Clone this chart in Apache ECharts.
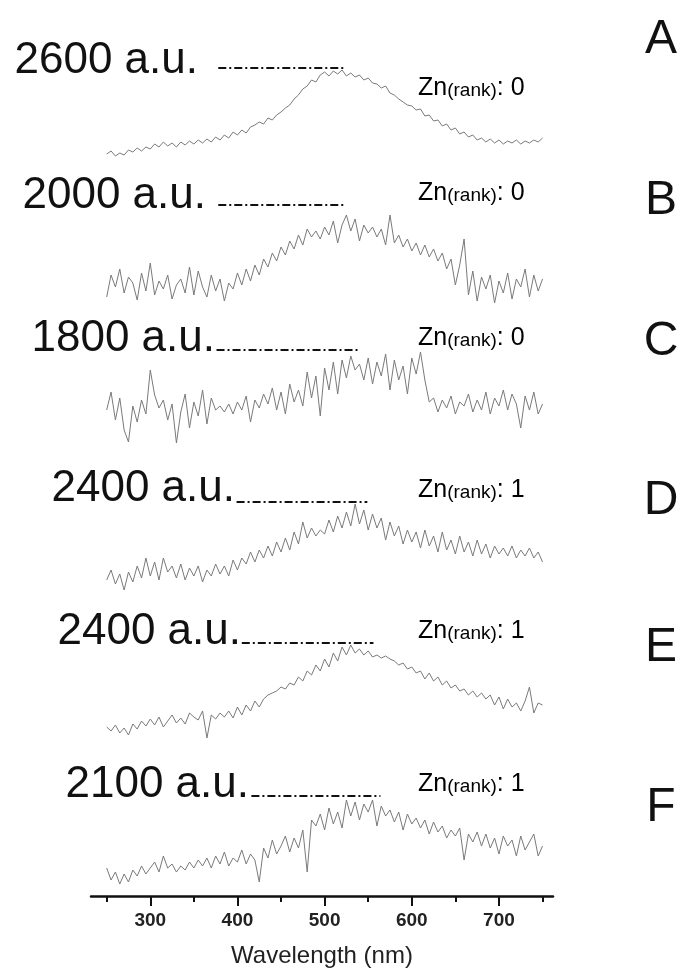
<!DOCTYPE html>
<html>
<head>
<meta charset="utf-8">
<title>Emission spectra A-F</title>
<script src="https://cdn.jsdelivr.net/npm/echarts@6/dist/echarts.min.js"></script>
<style>
html,body{margin:0;padding:0;background:#fff}
#main{width:684px;height:979px}
</style>
</head>
<body>
<div id="main"></div>
<script>
// wavelength sampling (nm), 5 nm steps from 250 to 750
var wavelengths = [];
for (var w = 250; w <= 750; w += 5) wavelengths.push(w);

var panelNames = ['A', 'B', 'C', 'D', 'E', 'F'];
var scaleLabels = ['2600 a.u.', '2000 a.u.', '1800 a.u.', '2400 a.u.', '2400 a.u.', '2100 a.u.'];
var znRank = [0, 0, 0, 1, 1, 1];
// reference (dash-dot) level line, start / end wavelength in nm
var refFrom = [378, 378, 376, 399, 405, 416];
var refTo = [524, 524, 541, 549, 556, 564];

var majorTicks = [300, 400, 500, 600, 700];
var minorTicks = [250, 350, 450, 550, 650, 750];

// intensities, % of the marked level (100 = dash-dot line)
var spectrumA = [14,17,12,15,13,18,16,20,17,21,
  19,24,21,26,22,25,21,26,23,27,
  24,28,25,29,26,31,28,33,30,36,
  33,38,35,41,43,46,44,50,48,53,
  56,60,63,69,73,79,82,88,86,93,
  96,92,97,94,98,92,95,91,93,88,
  90,85,84,80,82,75,73,69,66,63,
  62,58,59,52,53,47,48,42,44,38,
  40,34,36,31,33,28,30,26,29,25,
  28,24,27,25,28,24,27,25,28,26,
  30];
var spectrumB = [8,30,18,36,12,28,22,5,32,14,
  42,10,24,16,30,6,20,26,12,38,
  10,34,18,8,30,14,26,4,22,16,
  32,20,36,24,40,30,46,38,52,44,
  58,50,64,56,70,60,76,68,74,66,
  78,70,84,62,80,90,74,86,64,80,
  72,78,68,76,60,90,62,70,58,66,
  54,62,50,60,48,56,44,52,36,46,
  20,40,66,10,34,4,28,16,30,2,
  24,12,32,6,26,18,36,8,30,14,
  26];
var spectrumC = [40,58,30,52,20,8,44,28,50,36,
  80,55,42,50,30,46,7,38,56,22,
  48,34,60,26,52,40,44,38,46,36,
  48,40,54,28,50,42,56,46,62,40,
  58,36,66,48,60,44,78,52,74,34,
  82,60,88,56,90,72,94,80,86,70,
  92,66,88,74,96,60,90,70,84,56,
  92,76,98,70,48,52,38,50,42,54,
  36,48,44,56,38,50,40,58,36,52,
  44,60,40,56,46,22,54,40,58,36,
  46];
var spectrumD = [22,32,18,28,12,30,20,36,24,44,
  26,40,22,44,30,36,24,38,22,34,
  26,36,20,32,26,38,28,36,26,42,
  32,44,38,50,40,52,44,56,46,60,
  50,64,52,70,58,80,64,74,66,72,
  68,82,70,86,74,90,76,98,78,92,
  72,88,74,84,62,80,66,76,58,72,
  60,70,54,72,56,66,50,70,52,62,
  48,66,50,60,46,62,48,58,44,56,
  48,54,46,56,44,52,46,54,44,50,
  40];
var spectrumE = [16,12,18,10,15,8,19,14,22,17,
  24,18,26,16,22,28,20,25,19,30,
  26,23,32,5,28,24,30,26,32,25,
  36,28,38,32,42,36,44,48,50,52,
  56,54,60,58,66,62,72,68,78,72,
  84,76,90,82,96,88,98,90,94,88,
  92,86,88,85,87,84,82,78,80,74,
  76,70,72,64,70,62,66,58,62,55,
  58,52,54,48,52,46,50,44,48,38,
  46,34,44,36,40,32,42,56,30,40,
  38];
var spectrumF = [28,16,24,12,22,14,26,20,30,22,
  28,34,24,40,28,32,24,30,26,34,
  28,36,30,38,28,40,32,44,30,38,
  34,46,32,42,36,14,48,38,56,42,
  50,60,44,58,48,66,24,76,70,82,
  66,88,72,84,68,96,80,94,76,92,
  84,96,70,90,80,86,74,84,66,82,
  72,78,68,76,62,74,64,70,58,66,
  60,68,36,62,54,64,50,62,48,58,
  42,60,50,56,40,60,46,54,62,40,
  50];
var spectra = [spectrumA, spectrumB, spectrumC, spectrumD, spectrumE, spectrumF];

// layout (pixels)
var plotLeft = 91, plotWidth = 462, panelHeight = 100;
var lineTop = [68, 205, 350, 502, 643, 796];
var labelRight = [198, 206, 215, 235, 241, 249];
var labelMid = [61, 196, 339, 489, 632, 785];
var znLeft = 418;
var znMid = [88, 193, 338, 490, 631, 784];
var letterMid = [40, 201, 342, 501, 648, 808];
var fontName = '"Liberation Sans", Arial, sans-serif';

var myChart = echarts.init(document.getElementById('main'));

var grids = [], xAxes = [], yAxes = [], series = [], graphics = [];
for (var i = 0; i < 6; i++) {
  var last = (i === 5);
  grids.push({left: plotLeft, width: plotWidth, top: lineTop[i], height: panelHeight});
  xAxes.push({
    type: 'value', gridIndex: i, min: 232, max: 762,
    show: last,
    position: 'bottom',
    axisLine: {show: true, lineStyle: {color: '#111', width: 2.5}},
    axisTick: {customValues: majorTicks, length: 10, inside: false, lineStyle: {color: '#111', width: 2}},
    axisLabel: {customValues: majorTicks, fontSize: 19, fontWeight: 'bold', color: '#222', margin: 15, fontFamily: fontName},
    splitLine: {show: false},
    name: last ? 'Wavelength (nm)' : '',
    nameLocation: 'middle',
    nameGap: 48,
    nameTextStyle: {fontSize: 24, color: '#222', fontFamily: fontName}
  });
  yAxes.push({type: 'value', gridIndex: i, min: 0, max: 100, show: false});

  var pts = [];
  for (var k = 0; k < wavelengths.length; k++) pts.push([wavelengths[k], spectra[i][k]]);
  series.push({
    name: panelNames[i],
    type: 'line',
    xAxisIndex: i,
    yAxisIndex: i,
    data: pts,
    symbol: 'none',
    lineStyle: {color: '#7a7a7a', width: 1},
    markLine: {
      silent: true,
      symbol: ['none', 'none'],
      label: {show: false},
      lineStyle: {color: '#111', width: 2, type: [8, 3, 2, 3]},
      data: [[{coord: [refFrom[i], 100]}, {coord: [refTo[i], 100]}]]
    }
  });

  graphics.push({
    type: 'text', x: labelRight[i], y: labelMid[i],
    style: {text: scaleLabels[i], font: '44px ' + fontName, fill: '#111',
      align: 'right', textAlign: 'right', verticalAlign: 'middle', textVerticalAlign: 'middle'}
  });
  graphics.push({
    type: 'text', x: znLeft, y: znMid[i],
    style: {
      text: '{z|Zn}{s|(rank)}{z|: ' + znRank[i] + '}',
      align: 'left', textAlign: 'left', verticalAlign: 'middle', textVerticalAlign: 'middle',
      rich: {
        z: {fontSize: 25, fontFamily: fontName, color: '#111', verticalAlign: 'top', lineHeight: 25},
        s: {fontSize: 19, fontFamily: fontName, color: '#111', verticalAlign: 'bottom', lineHeight: 19, padding: [14, 0, 0, 0]}
      }
    }
  });
  graphics.push({
    type: 'text', x: 661, y: letterMid[i],
    style: {text: panelNames[i], font: '48px ' + fontName, fill: '#111',
      align: 'center', textAlign: 'center', verticalAlign: 'middle', textVerticalAlign: 'middle'}
  });
}

// short minor ticks at the half-hundreds
xAxes.push({
  type: 'value', gridIndex: 5, min: 232, max: 762, position: 'bottom', offset: 0,
  axisLine: {show: false},
  axisTick: {customValues: minorTicks, length: 6, lineStyle: {color: '#111', width: 2}},
  axisLabel: {show: false},
  splitLine: {show: false}
});

var option = {
  backgroundColor: '#fff',
  animation: false,
  grid: grids,
  xAxis: xAxes,
  yAxis: yAxes,
  series: series,
  graphic: graphics
};

myChart.setOption(option);
</script>
</body>
</html>
